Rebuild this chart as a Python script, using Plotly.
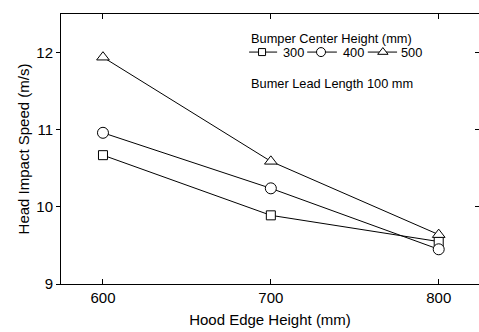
import plotly.graph_objects as go

# Hood edge height (mm) on the x axis
hood_edge_height = [600, 700, 800]

# Head impact speed (m/s) for each bumper centre height (mm)
bumper_heights = ["300", "400", "500"]
speed_300 = [10.67, 9.89, 9.55]
speed_400 = [10.96, 10.24, 9.45]
speed_500 = [11.94, 10.59, 9.64]

y_ticks = [9, 10, 11, 12]
x_ticks = [600, 700, 800]

FONT = "Liberation Sans, Arial, Helvetica, sans-serif"
series = [
    (bumper_heights[0], speed_300, "square", 9),
    (bumper_heights[1], speed_400, "circle", 11),
    (bumper_heights[2], speed_500, "triangle-up", 11),
]

fig = go.Figure()

for name, ys, sym, size in series:
    fig.add_trace(go.Scatter(
        x=hood_edge_height, y=ys, mode="lines+markers", name=name,
        line=dict(color="black", width=1),
        marker=dict(symbol=sym, size=size, color="white",
                    line=dict(color="black", width=1)),
        showlegend=False, hoverinfo="x+y",
    ))

# invisible trace so the right-hand tick axis is created
fig.add_trace(go.Scatter(x=[hood_edge_height[0]], y=[y_ticks[0]], yaxis="y2",
                         mode="markers", marker=dict(opacity=0),
                         showlegend=False, hoverinfo="skip"))

# hand-drawn key in plot-fraction coordinates (xaxis3 / yaxis3)
key_y = 0.859
key_items = [
    (0.450, 0.481, 0.517, 0.526),
    (0.589, 0.622, 0.660, 0.669),
    (0.734, 0.770, 0.804, 0.808),
]
for (x0, xm, x1, xt), (name, ys, sym, size) in zip(key_items, series):
    fig.add_trace(go.Scatter(
        x=[x0, x1], y=[key_y, key_y], xaxis="x3", yaxis="y3", mode="lines",
        line=dict(color="black", width=1), showlegend=False, hoverinfo="skip"))
    fig.add_trace(go.Scatter(
        x=[xm], y=[key_y], xaxis="x3", yaxis="y3", mode="markers",
        marker=dict(symbol=sym, size=size - 2, color="white",
                    line=dict(color="black", width=1)),
        showlegend=False, hoverinfo="skip"))
    fig.add_annotation(x=xt, y=key_y, xref="x3", yref="y3", text=name,
                       showarrow=False, xanchor="left", yanchor="middle",
                       font=dict(size=12.8, color="black", family=FONT))

fig.add_annotation(x=0.450, y=0.910, xref="x3", yref="y3",
                   text="Bumper Center Height (mm)", showarrow=False,
                   xanchor="left", yanchor="middle",
                   font=dict(size=12.8, color="black", family=FONT))
fig.add_annotation(x=0.450, y=0.744, xref="x3", yref="y3",
                   text="Bumer Lead Length 100 mm", showarrow=False,
                   xanchor="left", yanchor="middle",
                   font=dict(size=12.8, color="black", family=FONT))

axis_font = dict(size=15, color="black", family=FONT)

fig.update_layout(
    width=479, height=332,
    margin=dict(l=61, r=0, t=14, b=48),
    paper_bgcolor="white", plot_bgcolor="white",
    font=dict(family=FONT, color="black"),
    xaxis=dict(
        range=[575, 824], tickvals=x_ticks, ticks="inside", ticklen=5,
        tickcolor="black", showline=True, linecolor="black", linewidth=1,
        mirror="ticks", showgrid=False, zeroline=False, tickfont=axis_font,
        title=dict(text="Hood Edge Height (mm)", font=axis_font, standoff=9),
    ),
    yaxis=dict(
        range=[9, 12.5], tickvals=y_ticks, ticks="outside", ticklen=4,
        tickcolor="black", showline=True, linecolor="black", linewidth=1,
        showgrid=False, zeroline=False, tickfont=axis_font,
        title=dict(text="Head Impact Speed (m/s)", font=axis_font, standoff=3),
    ),
    yaxis2=dict(
        range=[9, 12.5], tickvals=y_ticks, overlaying="y", side="right",
        ticks="inside", ticklen=4, tickcolor="black", showticklabels=False,
        showline=False, showgrid=False, zeroline=False,
    ),
    xaxis3=dict(range=[0, 1], domain=[0, 1], overlaying="x", visible=False,
                anchor="y3"),
    yaxis3=dict(range=[0, 1], domain=[0, 1], overlaying="y", visible=False,
                anchor="x3"),
)

fig.write_html("out.html")
